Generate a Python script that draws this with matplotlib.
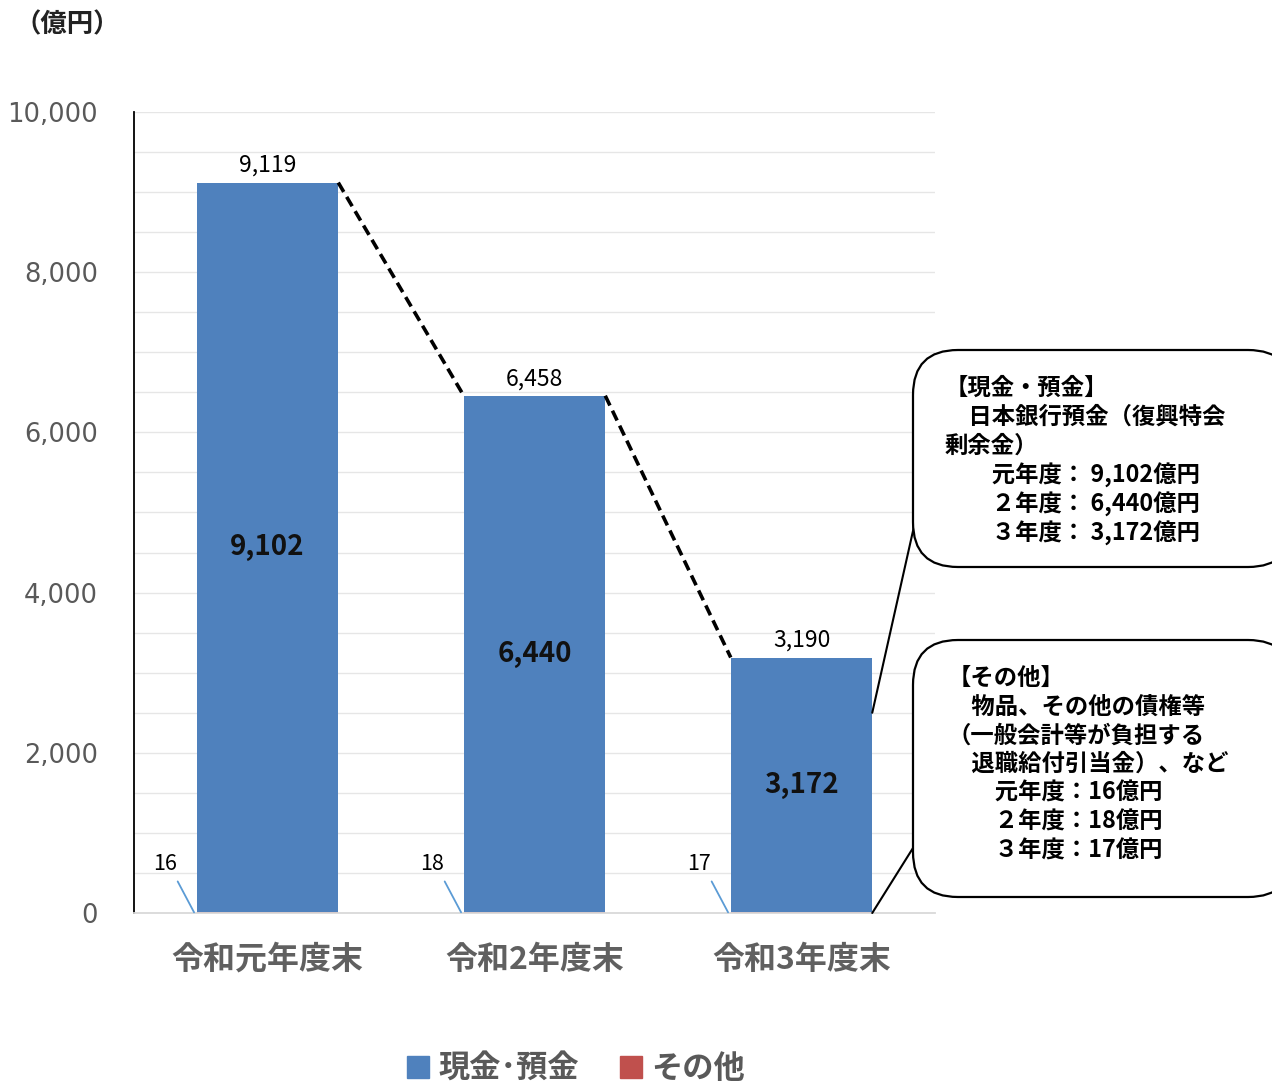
import matplotlib
matplotlib.use("Agg")
import matplotlib.pyplot as plt
from matplotlib.patches import FancyBboxPatch, Patch
from matplotlib.transforms import IdentityTransform

plt.rcParams['font.family'] = ['Noto Sans CJK JP', 'DejaVu Sans']

categories = ['令和元年度末', '令和2年度末', '令和3年度末']
cash = [9102, 6440, 3172]
other = [16, 18, 17]
totals = [9119, 6458, 3190]

box1_lines = ['【現金・預金】', '　日本銀行預金（復興特会', '剰余金）',
              '　　元年度： 9,102億円', '　　２年度： 6,440億円', '　　３年度： 3,172億円']
box2_lines = ['【その他】', '　物品、その他の債権等', '（一般会計等が負担する',
              '　退職給付引当金）、など', '　　元年度：16億円', '　　２年度：18億円', '　　３年度：17億円']

BLUE = '#4F81BD'
RED = '#C0504D'
GREY = '#595959'
W, H = 1272, 1084
w = 0.53

fig = plt.figure(figsize=(W / 100, H / 100), dpi=100)
ax = fig.add_axes([134 / W, 1 - 913 / H, (935 - 134) / W, (913 - 112) / H])

x = list(range(len(categories)))
ax.bar(x, other, width=w, color=RED, zorder=2)
ax.bar(x, cash, bottom=other, width=w, color=BLUE, zorder=2)

ax.set_xlim(-0.5, 2.5)
ax.set_ylim(0, 10000)
ax.set_yticks(range(0, 10001, 2000))
ax.set_yticklabels([f'{v:,}' for v in range(0, 10001, 2000)], fontsize=18.5,
                   color=GREY, family='DejaVu Sans')
ax.set_yticks(range(0, 10001, 500), minor=True)
ax.set_xticks(x)
ax.set_xticklabels(categories, fontsize=23, color='#606060', fontweight='bold')
ax.tick_params(axis='y', which='both', length=0, pad=26)
ax.tick_params(axis='x', length=0, pad=22)
ax.grid(axis='y', which='both', color='#E6E6E6', lw=1, zorder=0)
for s in ['top', 'right']:
    ax.spines[s].set_visible(False)
ax.spines['left'].set_color('black')
ax.spines['left'].set_linewidth(1.3)
ax.spines['bottom'].set_color('#D9D9D9')
ax.spines['bottom'].set_linewidth(1.3)

for i in x:
    ax.annotate(f'{totals[i]:,}', xy=(i, totals[i]), xytext=(0, 4),
                textcoords='offset points', ha='center', va='bottom', fontsize=16.5)
    ax.text(i, other[i] + cash[i] / 2, f'{cash[i]:,}', ha='center', va='center',
            fontsize=20, fontweight='bold', color='#111111')
    ax.annotate(str(other[i]), xy=(i - w / 2 - 0.01, other[i] / 2),
                xytext=(i - 0.385, 612), ha='center', va='center', fontsize=15.5,
                arrowprops=dict(arrowstyle='-', color='#5B9BD5', lw=1.3,
                                relpos=(0.9, 0), shrinkA=3, shrinkB=0))

for i in x[:-1]:
    ax.plot([i + w / 2, i + 1 - w / 2], [totals[i], totals[i + 1]],
            color='black', lw=2.6, ls=(0, (3, 1.6)), zorder=3)

# callout pointers
ax.annotate('', xy=(2 + w / 2, 2500), xytext=(915, H - 522), textcoords='figure pixels',
            arrowprops=dict(arrowstyle='-', color='black', lw=1.5, shrinkA=0, shrinkB=0))
ax.annotate('', xy=(2 + w / 2, 0), xytext=(913, H - 848), textcoords='figure pixels',
            arrowprops=dict(arrowstyle='-', color='black', lw=1.5, shrinkA=0, shrinkB=0))

for (bx, by, bw, bh) in [(913, 350, 380, 217), (913, 640, 380, 257)]:
    fig.add_artist(FancyBboxPatch((bx, H - by - bh), bw, bh,
                                  boxstyle='round,pad=0,rounding_size=45',
                                  transform=IdentityTransform(), fc='white',
                                  ec='black', lw=1.6, zorder=5))

for k, s in enumerate(box1_lines):
    fig.text(945 / W, 1 - (388 + 29 * k) / H, s, ha='left', va='center',
             fontsize=16.8, fontweight='bold', zorder=6)
for k, s in enumerate(box2_lines):
    fig.text(948 / W, 1 - (678 + 28.7 * k) / H, s, ha='left', va='center',
             fontsize=16.8, fontweight='bold', zorder=6)

fig.text(14 / W, 1 - 25 / H, '（億円）', ha='left', va='center', fontsize=19,
         fontweight='bold', color='#222222')

handles = [Patch(color=BLUE, label='現金･預金'), Patch(color=RED, label='その他')]
fig.legend(handles=handles, loc='center', bbox_to_anchor=(576 / W, 15 / H), ncol=2,
           frameon=False, handlelength=0.7, handleheight=0.7,
           handletextpad=0.3, columnspacing=1.3, labelcolor=GREY,
           prop={'size': 22.5, 'weight': 'bold'})

fig.savefig('out.png', dpi=100)
